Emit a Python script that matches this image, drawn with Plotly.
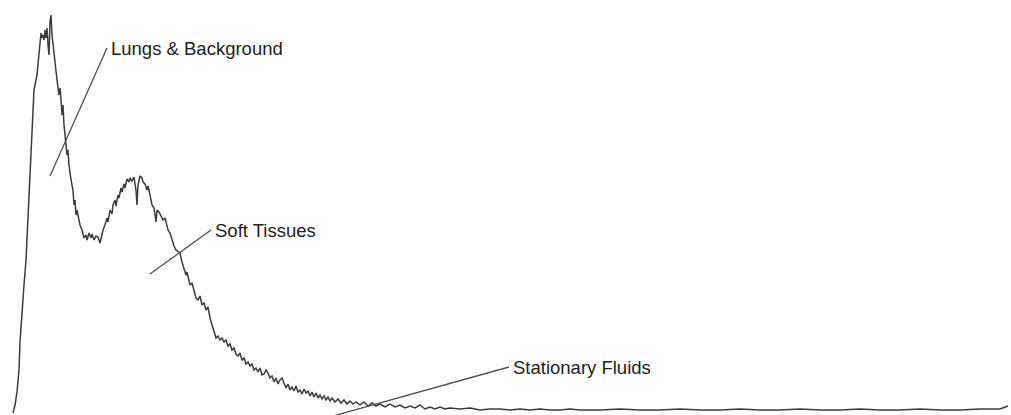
import plotly.graph_objects as go

# Histogram of image intensities: (bin, height-from-top reading)
rise = [(13,413),(15,405),(17,392),(19,370),(20,342),(22,310),(24,285),(26,260),(28,220),(30,180),(32,135),(34,90)]
lung_peak = [(37,75),(39,50),(41,33),(42,38),(43,35),(44,40),(45,30),(46,38),(47,28),(48,45),(49,55),(50,22),(51,15),(52,35),(53,45),(55,65),(57,80),(59,95),(60,88),(61,100),(62,115),(63,105),(64,125),(66,145),(67,155),(68,150),(69,165),(71,180),(73,190),(74,205),(75,200),(76,215),(77,210),(79,220),(80,225),(82,230),(84,238),(86,235),(87,240),(89,233),(91,238),(92,234),(94,240),(96,236),(98,237),(100,243)]
soft_peak = [(101,238),(103,230),(105,225),(107,218),(108,222),(110,210),(112,214),(113,205),(115,200),(116,206),(118,195),(119,198),(121,188),(122,192),(124,184),(125,188),(127,179),(129,182),(130,178),(132,181),(134,177),(136,190),(137,205),(138,185),(140,176),(142,178),(143,182),(145,184),(147,190),(148,186),(150,195),(152,205),(154,208),(155,215),(156,222),(157,210),(159,212),(161,216),(163,220),(165,218),(167,225),(168,230),(170,233),(172,240),(174,246),(176,250),(178,252),(180,253)]
decline = [(182,262),(184,268),(186,275),(187,272),(189,280),(190,285),(192,283),(194,292),(196,298),(198,300),(200,296),(202,305),(204,303),(206,310),(208,307),(210,318),(212,325),(214,332),(216,338),(218,336),(220,340),(222,338),(224,342),(226,340),(228,346),(230,344),(232,350),(234,348),(236,354),(238,356),(240,353),(242,360),(244,358),(246,364),(248,362),(250,366),(252,364),(254,370),(256,368),(258,372),(260,368),(262,375),(264,374),(266,370),(268,373),(270,378),(272,376),(274,382),(276,378),(278,384),(280,380),(282,378),(284,384),(286,388),(288,384),(290,390),(292,387),(294,391),(296,386),(298,392),(300,390),(302,394),(304,389),(306,393),(308,391),(310,396),(312,392),(314,397),(316,393),(318,398),(320,395),(322,399),(324,396),(326,400),(328,397),(330,401),(332,398),(335,402),(338,399),(341,403),(344,400),(347,404),(350,401),(353,404),(356,402),(360,405),(364,402),(368,406),(372,403),(376,406),(380,404),(385,407),(390,404),(395,407),(400,405),(405,408),(410,406),(415,408),(420,405),(425,409),(430,407),(435,409),(440,407),(445,409)]
tail = [(450,408),(460,409),(470,408),(480,410),(490,409),(500,409),(510,410),(520,409),(530,410),(540,409),(550,410),(560,410),(570,409),(580,410),(600,410),(620,409),(640,410),(660,410),(680,409),(700,410),(720,410),(740,409),(760,410),(780,410),(800,409),(820,410),(840,410),(860,409),(880,410),(900,410),(920,409),(940,410),(960,410),(980,409),(1000,409),(1008,406)]

_all = rise + lung_peak + soft_peak + decline + tail
intensity = [p[0] for p in _all]
count = [415 - p[1] for p in _all]

labels = ["Lungs & Background", "Soft Tissues", "Stationary Fluids"]
label_x = [107, 211, 509]
label_y = [415 - 48, 415 - 230, 415 - 367]
pointer_start_x = [50, 150, 333]
pointer_start_y = [415 - 176, 415 - 274, 415 - 416]

fig = go.Figure()
fig.add_trace(go.Scatter(x=intensity, y=count, mode="lines",
                         line=dict(color="#3c3c3c", width=1.5), hoverinfo="skip"))

for t, lx, ly, sx, sy in zip(labels, label_x, label_y, pointer_start_x, pointer_start_y):
    fig.add_shape(type="line", x0=sx, y0=sy, x1=lx, y1=ly, xref="x", yref="y",
                  line=dict(color="#505050", width=1.3))
    fig.add_annotation(x=lx + 2, y=ly, text=t, showarrow=False, xanchor="left",
                       yanchor="middle", font=dict(family="Liberation Sans, Arial", size=18.5, color="#222222"))

fig.update_layout(
    width=1011, height=415, margin=dict(l=0, r=0, t=0, b=0),
    paper_bgcolor="white", plot_bgcolor="white", showlegend=False,
    xaxis=dict(range=[0, 1011], visible=False, fixedrange=True),
    yaxis=dict(range=[0, 415], visible=False, fixedrange=True),
)
fig.write_html("out.html", config={"displayModeBar": False},
               post_script="document.body.style.margin='0';document.body.style.overflow='hidden';")
